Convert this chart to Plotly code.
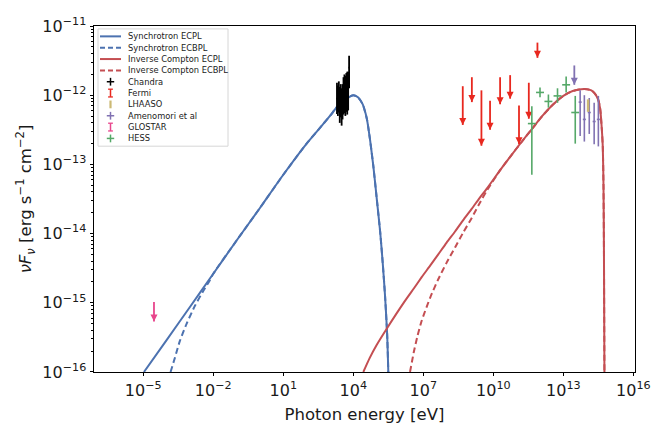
import numpy as np
import plotly.graph_objects as go

# ---------------- data: log10(E / eV), log10(nuFnu / erg s^-1 cm^-2) ----------------
sync_ecpl_logE = [-4.97, -4.0, -3.0, -2.0, -1.0, 0.0, 1.0, 2.0, 2.5, 3.0, 3.3, 3.6, 3.8, 4.0,
                  4.2, 4.4, 4.58, 4.72, 4.86, 5.0, 5.15, 5.26, 5.36, 5.45, 5.5]
sync_ecpl_logF = [-16.0, -15.54, -15.06, -14.58, -14.10, -13.63, -13.15, -12.70, -12.50, -12.30,
                  -12.17, -12.08, -12.03, -12.0, -12.03, -12.13, -12.34, -12.65, -13.03, -13.48,
                  -13.97, -14.42, -14.90, -15.45, -16.0]

sync_ecbpl_logE = [-3.83, -3.64, -3.43, -3.14, -2.78, -2.43, -2.14]
sync_ecbpl_logF = [-16.0, -15.79, -15.55, -15.30, -15.04, -14.83, -14.67]

ic_ecpl_logE = [4.43, 4.7, 5.0, 5.46, 6.2, 6.6, 6.93, 7.3, 7.64, 8.0, 8.36, 8.7, 9.08, 9.4,
                9.72, 10.3, 10.72, 11.2, 11.65, 12.1, 12.57, 13.0, 13.4, 13.9, 14.2, 14.36,
                14.5, 14.58, 14.65, 14.69, 14.72, 14.74, 14.76]
ic_ecpl_logF = [-16.0, -15.8, -15.61, -15.36, -14.98, -14.79, -14.63, -14.46, -14.30, -14.13,
                -13.97, -13.81, -13.64, -13.49, -13.35, -13.08, -12.89, -12.68, -12.49, -12.30,
                -12.13, -12.01, -11.94, -11.91, -11.93, -11.98, -12.07, -12.20, -12.50,
                -12.75, -13.30, -14.30, -16.0]

ic_ecbpl_logE = [6.43, 6.6, 6.75, 6.93, 7.3, 7.64, 8.0, 8.36, 8.7, 9.08, 9.4, 9.72]
ic_ecbpl_logF = [-16.0, -15.70, -15.48, -15.26, -14.92, -14.66, -14.42, -14.20, -13.99, -13.77,
                 -13.57, -13.38]

chandra_logE = [3.30, 3.34, 3.38, 3.42, 3.46, 3.50, 3.54, 3.58, 3.62, 3.66, 3.70, 3.74, 3.78, 3.82]
chandra_logF = [-12.05, -12.08, -12.02, -12.12, -12.06, -12.15, -12.08, -12.00, -11.96, -12.02,
                -11.94, -11.98, -11.92, -11.60]
chandra_logF_lo = [-12.27, -12.30, -12.25, -12.40, -12.32, -12.44, -12.35, -12.28, -12.26, -12.30,
                   -12.24, -12.28, -12.22, -11.90]
chandra_logF_hi = [-11.82, -11.86, -11.80, -11.88, -11.84, -11.90, -11.84, -11.74, -11.70, -11.72,
                   -11.68, -11.66, -11.66, -11.43]
chandra_dlogE = [0.024] * 14

fermi_logE = [8.69, 9.08, 9.49, 9.86, 10.29, 10.72, 11.10, 11.52, 11.89]
fermi_ul_logF = [-11.87, -11.74, -11.93, -12.08, -11.74, -11.71, -12.15, -11.82, -11.24]
fermi_arrow_end_logF = [-12.43, -12.10, -12.73, -12.50, -12.13, -12.05, -12.71, -12.34, -11.46]

lhaaso_logE = [14.06]
lhaaso_logF = [-12.15]
lhaaso_logF_lo = [-12.24]
lhaaso_logF_hi = [-12.06]

amen_logE = [13.72, 13.90, 14.11, 14.32, 14.50]
amen_logF = [-12.10, -12.35, -12.25, -12.38, -12.35]
amen_logF_lo = [-12.59, -12.67, -12.56, -12.71, -12.74]
amen_logF_hi = [-11.93, -12.00, -12.04, -12.11, -12.01]
amen_dlogE = [0.065] * 5
amen_ul_logE = [13.47]
amen_ul_logF = [-11.57]
amen_arrow_end_logF = [-11.85]

glostar_logE = [-4.54]
glostar_ul_logF = [-14.99]
glostar_arrow_end_logF = [-15.27]

hess_logE = [11.65, 12.0, 12.36, 12.75, 13.12, 13.51]
hess_logF = [-12.41, -11.96, -12.09, -12.01, -11.85, -12.25]
hess_logF_lo = [-13.15, -12.03, -12.18, -12.11, -11.96, -12.70]
hess_logF_hi = [-12.16, -11.89, -11.99, -11.90, -11.73, -12.01]
hess_dlogE = [0.17] * 6

x_tick_exp = [-5, -2, 1, 4, 7, 10, 13, 16]
y_tick_exp = [-16, -15, -14, -13, -12, -11]

legend_labels = ["Synchrotron ECPL", "Synchrotron ECBPL", "Inverse Compton ECPL",
                 "Inverse Compton ECBPL", "Chandra", "Fermi", "LHAASO", "Amenomori et al",
                 "GLOSTAR", "HESS"]

# ---------------- styling ----------------
BLUE = "#4C72B0"
RED = "#C44E52"
FERMI = "#E8281F"
LHAASO = "#CCB974"
PURPLE = "#8172B2"
PINK = "#E8468C"
GREEN = "#55A868"
FONT = "DejaVu Sans"

W, H = 668, 426
OFF = 8  # page body offset of the rendered figure
L, R, T, B = 86, 41, 7, 62
PW, PH = W - L - R, H - T - B


def P(a):
    return np.power(10.0, np.asarray(a, dtype=float))


def extend(own_E, own_F, base_E, base_F):
    own_E = list(own_E); own_F = list(own_F)
    last = own_E[-1]
    for e, f in zip(base_E, base_F):
        if e > last:
            own_E.append(e); own_F.append(f)
    return own_E, own_F


fig = go.Figure()

sbE, sbF = extend(sync_ecbpl_logE, sync_ecbpl_logF, sync_ecpl_logE, sync_ecpl_logF)
ibE, ibF = extend(ic_ecbpl_logE, ic_ecbpl_logF, ic_ecpl_logE, ic_ecpl_logF)

for xe, yf, col, dash in [(sync_ecpl_logE, sync_ecpl_logF, BLUE, "solid"),
                          (sbE, sbF, BLUE, "6px,3.5px"),
                          (ic_ecpl_logE, ic_ecpl_logF, RED, "solid"),
                          (ibE, ibF, RED, "6px,3.5px")]:
    fig.add_trace(go.Scatter(x=P(xe), y=P(yf), mode="lines",
                             line=dict(color=col, width=2, dash=dash, shape="spline",
                                       smoothing=0.6),
                             hoverinfo="skip"))


def err_trace(logE, logF, lo, hi, dlogE, color, thick):
    x = P(logE); y = P(logF)
    ex = None
    if dlogE is not None:
        d = np.asarray(dlogE)
        ex = dict(type="data", symmetric=False,
                  array=P(np.asarray(logE) + d) - x,
                  arrayminus=x - P(np.asarray(logE) - d),
                  color=color, thickness=thick, width=0)
    ey = dict(type="data", symmetric=False, array=P(hi) - y, arrayminus=y - P(lo),
              color=color, thickness=thick, width=0)
    return go.Scatter(x=x, y=y, mode="markers", marker=dict(size=0.1, color=color),
                      error_x=ex, error_y=ey, hoverinfo="skip")


def ul_traces(logE, top, end, color):
    xs, ys = [], []
    for e, t, h in zip(logE, top, end):
        xs += [10.0 ** e, 10.0 ** e, None]
        ys += [10.0 ** t, 10.0 ** h, None]
    shaft = go.Scatter(x=xs, y=ys, mode="lines", line=dict(color=color, width=1.8),
                       hoverinfo="skip")
    head = go.Scatter(x=P(logE), y=P(end), mode="markers",
                      marker=dict(symbol="arrow-down", size=7, color=color,
                                  line=dict(width=0)),
                      hoverinfo="skip")
    return [shaft, head]


fig.add_trace(err_trace(chandra_logE, chandra_logF, chandra_logF_lo, chandra_logF_hi,
                        chandra_dlogE, "black", 1.8))
for t in ul_traces(fermi_logE, fermi_ul_logF, fermi_arrow_end_logF, FERMI):
    fig.add_trace(t)
fig.add_trace(err_trace(hess_logE, hess_logF, hess_logF_lo, hess_logF_hi, hess_dlogE, GREEN, 1.6))
fig.add_trace(err_trace(amen_logE, amen_logF, amen_logF_lo, amen_logF_hi, amen_dlogE, PURPLE, 1.6))
for t in ul_traces(amen_ul_logE, amen_ul_logF, amen_arrow_end_logF, PURPLE):
    fig.add_trace(t)
fig.add_trace(err_trace(lhaaso_logE, lhaaso_logF, lhaaso_logF_lo, lhaaso_logF_hi, None, LHAASO, 2.5))
for t in ul_traces(glostar_logE, glostar_ul_logF, glostar_arrow_end_logF, PINK):
    fig.add_trace(t)


def sup(e):
    return "10<sup>" + ("\u2212" if e < 0 else "") + str(abs(e)) + "</sup>"


# ---------------- manual legend (compact, matplotlib-like box) ----------------
def px(x):  # screen x (reference pixels) -> paper
    return (x - (L + OFF)) / PW


def py(y):  # screen y (reference pixels) -> paper
    return (H - B + OFF - y) / PH


shapes = []
annotations = []
shapes.append(dict(type="rect", xref="paper", yref="paper", x0=px(98), x1=px(228),
                   y0=py(139), y1=py(18), line=dict(color="#d6d6d6", width=1),
                   fillcolor="rgba(255,255,255,0.8)", layer="above"))
y0, step = 25.7, 11.7
hx0, hx1 = 100, 121
hc = (hx0 + hx1) / 2
styles = [("line", BLUE, "solid"), ("line", BLUE, "dash"), ("line", RED, "solid"),
          ("line", RED, "dash"), ("cross", "black", None), ("ibar", FERMI, None),
          ("vbar", LHAASO, None), ("cross", PURPLE, None), ("ibar", PINK, None),
          ("cross", GREEN, None)]
for i, (lab, (kind, col, dash)) in enumerate(zip(legend_labels, styles)):
    yc = y0 + i * step
    if kind == "line":
        shapes.append(dict(type="line", xref="paper", yref="paper", x0=px(hx0), x1=px(hx1),
                           y0=py(yc), y1=py(yc), layer="above",
                           line=dict(color=col, width=2,
                                     dash=("solid" if dash == "solid" else "5px,3px"))))
    else:
        lw = 2.2 if kind == "vbar" else 1.5
        shapes.append(dict(type="line", xref="paper", yref="paper", x0=px(hc), x1=px(hc),
                           y0=py(yc + 4), y1=py(yc - 4), layer="above",
                           line=dict(color=col, width=lw)))
        if kind == "cross":
            shapes.append(dict(type="line", xref="paper", yref="paper", x0=px(hc - 3.7),
                               x1=px(hc + 3.7), y0=py(yc), y1=py(yc), layer="above",
                               line=dict(color=col, width=1.5)))
        if kind == "ibar":
            for yy in (yc - 4, yc + 4):
                shapes.append(dict(type="line", xref="paper", yref="paper", x0=px(hc - 2.4),
                                   x1=px(hc + 2.4), y0=py(yy), y1=py(yy), layer="above",
                                   line=dict(color=col, width=1.3)))
    annotations.append(dict(text=lab, xref="paper", yref="paper", x=px(125.5), y=py(yc),
                            xanchor="left", yanchor="middle", showarrow=False,
                            font=dict(family=FONT, size=8.3, color="#1a1a1a")))

axis_common = dict(type="log", showline=True, mirror=True, linecolor="black", linewidth=0.9,
                   ticks="outside", ticklen=3.5, tickwidth=0.9, tickcolor="black",
                   showgrid=False, zeroline=False, ticklabeloverflow="allow",
                   tickfont=dict(family=FONT, size=16, color="#1a1a1a"))

fig.update_layout(
    width=W, height=H,
    margin=dict(l=L, r=R, t=T, b=B),
    paper_bgcolor="white", plot_bgcolor="white",
    showlegend=False,
    font=dict(family=FONT, color="#1a1a1a"),
    xaxis=dict(axis_common, range=[-7.11, 16.07], tickmode="array",
               tickvals=[10.0 ** e for e in x_tick_exp], ticktext=[sup(e) for e in x_tick_exp],
               title=dict(text="Photon energy [eV]", font=dict(family=FONT, size=16.5),
                          standoff=9)),
    yaxis=dict(axis_common, range=[-16.0001, -10.9999], tickmode="array",
               tickvals=[10.0 ** e for e in y_tick_exp], ticktext=[sup(e) for e in y_tick_exp],
               minor=dict(ticks="outside", ticklen=2, tickwidth=0.6, tickcolor="black",
                          dtick="D1", showgrid=False),
               title=dict(text="<i>\u03bdF</i><sub><i>\u03bd</i></sub> [erg s<sup>\u22121</sup> cm<sup>\u22122</sup>]",
                          font=dict(family=FONT, size=16.5), standoff=6)),
    shapes=shapes,
    annotations=annotations,
)

fig.write_html("out.html")
